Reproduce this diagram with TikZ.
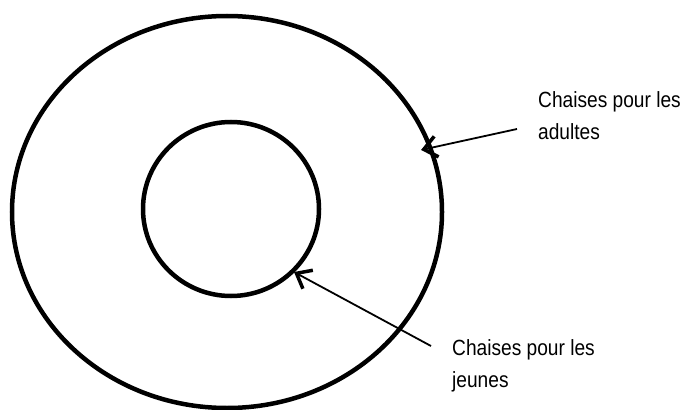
\documentclass[tikz,border=0pt]{standalone}
\usepackage{fontspec}
\setmainfont{Liberation Sans}[FakeStretch=0.87]
\usepackage{tikz}
\usetikzlibrary{arrows.meta,positioning,calc,shapes.geometric}

\begin{document}
\begin{tikzpicture}[x=1pt, y=-1pt,
    rond/.style={draw, ellipse, line width=4.5pt, inner sep=0pt},
    legende/.style={align=left, anchor=west, inner sep=0pt,
                    font=\fontsize{22}{32}\selectfont},
    fleche/.style={line width=1.8pt,
                   -{Straight Barb[length=13pt, width=21pt, line width=3.5pt]}}]
  \useasboundingbox (0,0) rectangle (687,409);
  \node[rond, minimum width=430pt, minimum height=392pt] (adultes) at (227,212) {};
  \node[rond, minimum width=176pt, minimum height=174pt] (jeunes) at (231,209) {};
  \node[legende] (lblA) at (538,116) {Chaises pour les\\adultes};
  \node[legende] (lblJ) at (452,366) {Chaises pour les\\jeunes};
  \coordinate (tipA) at (421,150);
  \coordinate (tipJ) at (294,272);
  \draw[fleche] ([xshift=-21pt, yshift=-13pt]lblA.west) -- (tipA);
  \draw[fleche] ([xshift=-21pt, yshift=20pt]lblJ.west) -- (tipJ);
\end{tikzpicture}
\end{document}
